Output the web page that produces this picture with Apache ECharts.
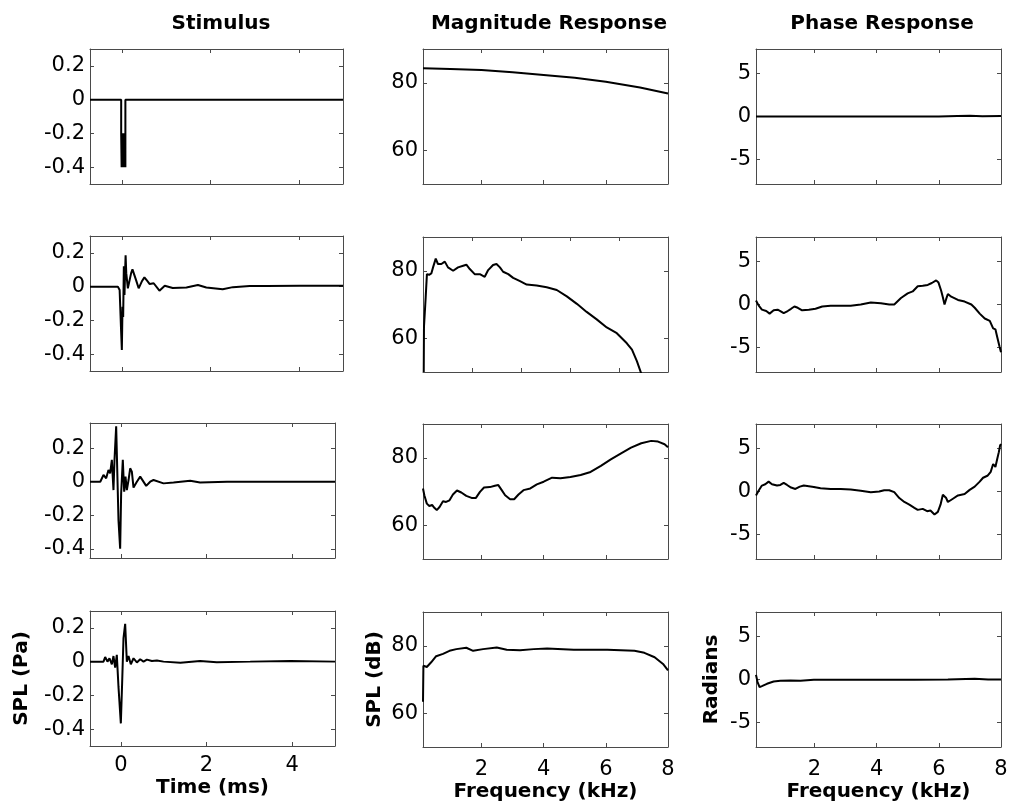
<!DOCTYPE html>
<html>
<head>
<meta charset="utf-8">
<title>Stimulus / Magnitude / Phase</title>
<script src="https://cdn.jsdelivr.net/npm/echarts@6.0.0/dist/echarts.min.js"></script>
<style>
  html, body { margin: 0; padding: 0; background: #fff; }
  #chart { width: 1011px; height: 809px; }
</style>
</head>
<body>
<div id="chart"></div>
<script>
// ---- values ----
// stimulus: time (ms) / pressure (Pa)
const stim1T = [-0.72, -0.015, -0.015, -0.005, 0.01, 0.025, 0.04, 0.055, 0.07, 0.08, 0.08, 5];
const stim1V = [0, 0, -0.2, -0.4, -0.2, -0.4, -0.2, -0.4, -0.2, -0.4, 0, 0];

const stim2T = [-0.72, -0.09, -0.05, -0.02, 0.0, 0.015, 0.03, 0.045, 0.06, 0.075, 0.085, 0.1, 0.136, 0.17, 0.21, 0.24, 0.28, 0.32, 0.38, 0.45, 0.51, 0.57, 0.63, 0.72, 0.85, 0.97, 1.15, 1.46, 1.72, 1.91, 2.28, 2.51, 2.89, 3.27, 4.02, 5];
const stim2V = [0, 0, -0.02, -0.24, -0.376, -0.12, -0.18, 0.12, -0.05, 0.1, 0.186, 0.08, -0.01, 0.0, 0.08, 0.102, 0.1, 0.04, -0.01, 0.03, 0.055, 0.035, 0.015, 0.02, -0.024, 0.005, -0.008, -0.005, 0.01, -0.005, -0.015, -0.003, 0.003, 0.004, 0.005, 0.005];

const stim3T = [-0.72, -0.48, -0.405, -0.343, -0.289, -0.25, -0.21, -0.172, -0.148, -0.109, -0.078, -0.055, -0.016, 0.007, 0.046, 0.078, 0.109, 0.14, 0.18, 0.218, 0.257, 0.296, 0.374, 0.452, 0.592, 0.685, 0.763, 0.997, 1.23, 1.62, 1.85, 2.48, 5.0];
const stim3V = [0, 0, 0.04, 0.02, 0.07, 0.05, 0.13, -0.05, 0.13, 0.33, 0.33, -0.23, -0.4, -0.07, 0.13, -0.06, 0.03, -0.05, 0.01, 0.08, 0.06, -0.035, 0, 0.03, -0.025, 0, 0.01, -0.01, -0.005, 0.005, -0.005, 0, 0];

const stim4T = [-0.72, -0.405, -0.366, -0.312, -0.265, -0.21, -0.172, -0.133, -0.094, -0.055, 0.0, 0.03, 0.062, 0.101, 0.14, 0.179, 0.233, 0.296, 0.374, 0.452, 0.53, 0.608, 0.725, 0.841, 0.997, 1.39, 1.85, 2.24, 3.02, 3.96, 5.0];
const stim4V = [0, 0, 0.027, 0, 0.02, -0.016, 0.033, -0.035, 0.04, -0.15, -0.366, -0.13, 0.14, 0.224, 0, 0.033, -0.016, 0.02, -0.005, 0.014, 0, 0.012, 0.004, 0.007, 0, -0.006, 0.004, -0.003, 0, 0.004, 0];

// magnitude: frequency (kHz) / SPL (dB)
const mag1F = [0.117, 1, 2, 3, 4, 5, 6, 7.1, 8];
const mag1V = [84.3, 84.1, 83.8, 83.1, 82.3, 81.5, 80.3, 78.6, 76.8];

const mag2F = [0.03, 0.04, 0.11, 0.16, 0.25, 0.34, 0.41, 0.52, 0.61, 0.75, 0.89, 1.02, 1.23, 1.43, 1.64, 1.77, 1.91, 2.11, 2.32, 2.52, 2.66, 2.86, 3.0, 3.14, 3.27, 3.48, 3.68, 3.96, 4.23, 4.64, 5.05, 5.46, 5.87, 6.28, 6.68, 7.09, 7.5, 7.91, 8.32, 8.53, 8.73, 8.91];
const mag2V = [50, 63.4, 72.2, 79, 78.8, 79.2, 81, 83.6, 82, 82, 82.7, 81, 80, 81, 81.5, 81.8, 80.5, 79, 79, 78.2, 80.2, 81.7, 82, 81, 79.7, 79, 77.9, 76.9, 75.9, 75.6, 75.1, 74.3, 72.4, 70.2, 67.8, 65.6, 63.2, 61.5, 58.5, 56.6, 53.2, 49.5];

const mag3F = [0.117, 0.16, 0.24, 0.32, 0.41, 0.49, 0.56, 0.65, 0.76, 0.86, 0.97, 1.08, 1.21, 1.35, 1.51, 1.68, 1.82, 1.95, 2.08, 2.27, 2.43, 2.54, 2.65, 2.76, 2.92, 3.05, 3.19, 3.35, 3.57, 3.78, 4.0, 4.27, 4.54, 4.86, 5.19, 5.51, 5.84, 6.16, 6.49, 6.81, 7.14, 7.46, 7.68, 7.89, 8];
const mag3V = [70.9, 68.9, 66.4, 65.7, 66, 65.1, 64.5, 65.4, 67.1, 66.9, 67.4, 69.1, 70.3, 69.7, 68.7, 68.1, 68.1, 69.9, 71.2, 71.3, 71.7, 71.9, 70.4, 68.9, 67.7, 67.7, 69.1, 70.4, 70.9, 72.1, 72.9, 74.1, 73.9, 74.3, 74.9, 75.8, 77.6, 79.5, 81.3, 83, 84.3, 85, 84.8, 84, 83.1];

const mag4F = [0.117, 0.13, 0.19, 0.24, 0.3, 0.38, 0.54, 0.76, 0.97, 1.19, 1.51, 1.73, 2.05, 2.49, 2.81, 3.24, 3.68, 4.11, 4.97, 6.05, 6.92, 7.24, 7.57, 7.84, 8];
const mag4V = [63.4, 74.1, 74.6, 73.7, 74.1, 75.1, 76.9, 77.6, 78.5, 79, 79.4, 78.5, 79, 79.5, 78.8, 78.7, 79, 79.2, 78.8, 78.8, 78.5, 77.9, 76.6, 74.6, 72.7];

// phase: frequency (kHz) / radians
const ph1F = [0.117, 2, 4, 6, 6.6, 7, 7.4, 8];
const ph1V = [0, 0, 0, 0, 0.05, 0.08, 0.02, 0.05];

const ph2F = [0.117, 0.2, 0.307, 0.447, 0.555, 0.685, 0.814, 0.9, 1.008, 1.137, 1.245, 1.353, 1.461, 1.601, 1.817, 2.032, 2.248, 2.518, 2.841, 3.164, 3.488, 3.811, 4.135, 4.404, 4.566, 4.782, 4.997, 5.159, 5.321, 5.482, 5.644, 5.774, 5.914, 5.989, 6.075, 6.129, 6.183, 6.237, 6.291, 6.399, 6.615, 6.83, 7.046, 7.154, 7.315, 7.477, 7.639, 7.747, 7.82, 7.88, 7.95, 8];
const ph2V = [0.46, -0.1, -0.6, -0.76, -1.06, -0.68, -0.6, -0.76, -1.0, -0.76, -0.5, -0.23, -0.38, -0.68, -0.6, -0.5, -0.23, -0.15, -0.15, -0.15, 0, 0.23, 0.15, 0, 0, 0.76, 1.29, 1.52, 2.13, 2.17, 2.28, 2.5, 2.81, 2.55, 1.6, 0.84, 0, 0.65, 1.22, 0.91, 0.53, 0.34, 0, -0.38, -1.06, -1.63, -1.9, -2.78, -2.89, -3.8, -4.87, -5.55];

const ph3F = [0.117, 0.2, 0.307, 0.415, 0.523, 0.631, 0.792, 0.9, 1.008, 1.116, 1.245, 1.385, 1.526, 1.655, 1.817, 1.978, 2.194, 2.518, 2.841, 3.164, 3.488, 3.811, 4.081, 4.243, 4.404, 4.566, 4.728, 4.89, 5.051, 5.213, 5.321, 5.482, 5.623, 5.73, 5.86, 5.968, 6.054, 6.129, 6.183, 6.237, 6.291, 6.453, 6.615, 6.83, 6.992, 7.154, 7.315, 7.423, 7.563, 7.67, 7.747, 7.82, 7.88, 7.93, 7.97, 8];
const ph3V = [-0.46, 0.08, 0.69, 0.84, 1.15, 0.84, 0.69, 0.76, 1.0, 0.76, 0.46, 0.3, 0.57, 0.69, 0.61, 0.53, 0.38, 0.3, 0.3, 0.23, 0.08, -0.08, 0, 0.15, 0.15, -0.08, -0.76, -1.22, -1.53, -1.9, -2.14, -2.02, -2.29, -2.21, -2.67, -2.37, -1.53, -0.38, -0.19, -0.76, -1.22, -0.84, -0.46, -0.3, 0.19, 0.57, 1.15, 1.6, 1.83, 2.29, 3.2, 2.86, 3.82, 4.58, 5.34, 5.53];

const ph4F = [0.117, 0.167, 0.232, 0.307, 0.469, 0.685, 0.9, 1.224, 1.547, 1.978, 2.518, 3.057, 4.135, 5.213, 6.291, 7.154, 7.585, 8];
const ph4V = [0.54, -0.3, -0.88, -0.77, -0.5, -0.23, -0.15, -0.12, -0.15, -0.04, -0.04, -0.04, -0.04, -0.04, 0, 0.08, 0, 0];

// tick values
const timeTicks = [0, 2, 4];
const freqTicks = [2, 4, 6, 8];
const paTicks = [-0.4, -0.2, 0, 0.2];
const dbTicks = [60, 80];
const radTicks = [-5, 0, 5];

const columnTitles = ['Stimulus', 'Magnitude Response', 'Phase Response'];

// ---- layout ----
const axisColor = '#4a4a4a';
const tickFont = 'DejaVu Sans';
const boldFont = 'DejaVu Sans';
const rowTop = [49, 237, 424, 612];
const ph = 135;

function zip(a, b) {
  return a.map((v, i) => [v, b[i]]);
}

const panels = [
  // column 1: stimulus
  { left: 90, top: 49, width: 253, xr: [-0.72, 5], xt: timeTicks, yr: [-0.5, 0.3], yt: paTicks, d: zip(stim1T, stim1V) },
  { left: 90, top: 236, width: 253, xr: [-0.72, 5], xt: timeTicks, yr: [-0.5, 0.3], yt: paTicks, d: zip(stim2T, stim2V) },
  { left: 90, top: 423, width: 245, xr: [-0.72, 5], xt: timeTicks, yr: [-0.455, 0.35], yt: paTicks, d: zip(stim3T, stim3V) },
  { left: 90, top: 611, width: 245, xr: [-0.72, 5], xt: timeTicks, yr: [-0.5, 0.3], yt: paTicks, d: zip(stim4T, stim4V),
    xName: 'Time (ms)', yName: 'SPL (Pa)', xGap: 32, yGap: 58, lblMargin: 9 },
  // column 2: magnitude
  { left: 423, top: rowTop[0], width: 245, xr: [0.117, 8], xt: freqTicks, yr: [50, 90], yt: dbTicks, d: zip(mag1F, mag1V) },
  { left: 423, top: rowTop[1], width: 245, xr: [0, 10], xt: freqTicks, yr: [50, 90], yt: dbTicks, d: zip(mag2F, mag2V) },
  { left: 423, top: rowTop[2], width: 245, xr: [0.117, 8], xt: freqTicks, yr: [50, 90], yt: dbTicks, d: zip(mag3F, mag3V) },
  { left: 423, top: rowTop[3], width: 245, xr: [0.117, 8], xt: freqTicks, yr: [50, 90], yt: dbTicks, d: zip(mag4F, mag4V),
    xName: 'Frequency (kHz)', yName: 'SPL (dB)', xGap: 35, yGap: 38, lblMargin: 12 },
  // column 3: phase
  { left: 756, top: rowTop[0], width: 245, xr: [0.117, 8], xt: freqTicks, yr: [-7.854, 7.854], yt: radTicks, d: zip(ph1F, ph1V) },
  { left: 756, top: rowTop[1], width: 245, xr: [0.117, 8], xt: freqTicks, yr: [-7.854, 7.854], yt: radTicks, d: zip(ph2F, ph2V) },
  { left: 756, top: rowTop[2], width: 245, xr: [0.117, 8], xt: freqTicks, yr: [-7.854, 7.854], yt: radTicks, d: zip(ph3F, ph3V) },
  { left: 756, top: rowTop[3], width: 245, xr: [0.117, 8], xt: freqTicks, yr: [-7.854, 7.854], yt: radTicks, d: zip(ph4F, ph4V),
    xName: 'Frequency (kHz)', yName: 'Radians', xGap: 35, yGap: 34, lblMargin: 12 }
];

const grid = [], xAxis = [], yAxis = [], series = [];
const nameStyle = { fontFamily: boldFont, fontWeight: 'bold', fontSize: 20, color: '#000' };
const lineAxis = { show: true, onZero: false, lineStyle: { color: axisColor, width: 1 } };

function ticks(vals) {
  return { show: true, inside: true, length: 4, customValues: vals, lineStyle: { color: axisColor, width: 1 } };
}

panels.forEach((p, i) => {
  const bottomRow = !!p.xName;
  grid.push({ left: p.left, top: p.top, width: p.width, height: ph, show: false, containLabel: false, outerBoundsMode: 'none' });

  xAxis.push({
    type: 'value', gridIndex: i, position: 'bottom', min: p.xr[0], max: p.xr[1],
    axisLine: lineAxis, axisTick: ticks(p.xt), splitLine: { show: false },
    axisLabel: { show: bottomRow, customValues: p.xt, margin: p.lblMargin || 8, fontFamily: tickFont, fontSize: 21, color: '#000', showMinLabel: true, showMaxLabel: true },
    name: p.xName || '', nameLocation: 'middle', nameGap: p.xGap || 30, nameTextStyle: nameStyle, nameMoveOverlap: false
  });
  xAxis.push({
    type: 'value', gridIndex: i, position: 'top', min: p.xr[0], max: p.xr[1],
    axisLine: lineAxis, axisTick: ticks(p.xt), axisLabel: { show: false }, splitLine: { show: false }
  });
  yAxis.push({
    type: 'value', gridIndex: i, position: 'left', min: p.yr[0], max: p.yr[1],
    axisLine: lineAxis, axisTick: ticks(p.yt), splitLine: { show: false },
    axisLabel: { customValues: p.yt, margin: 5, fontFamily: tickFont, fontSize: 21, color: '#000', showMinLabel: true, showMaxLabel: true },
    name: p.yName || '', nameLocation: 'middle', nameGap: p.yGap || 40, nameTextStyle: nameStyle, nameMoveOverlap: false
  });
  yAxis.push({
    type: 'value', gridIndex: i, position: 'right', min: p.yr[0], max: p.yr[1],
    axisLine: lineAxis, axisTick: ticks(p.yt), axisLabel: { show: false }, splitLine: { show: false }
  });
  series.push({
    type: 'line', xAxisIndex: 2 * i, yAxisIndex: 2 * i, data: p.d,
    showSymbol: false, symbol: 'none', clip: true, silent: true,
    lineStyle: { color: '#000', width: 2 }
  });
});

// column titles, centred over each column
const title = columnTitles.map((t, c) => ({
  text: t,
  left: [216, 544, 877][c],
  top: 9,
  textAlign: 'center',
  textStyle: { fontFamily: boldFont, fontWeight: 'bold', fontSize: 20, color: '#000' }
}));

const chart = echarts.init(document.getElementById('chart'), null, { renderer: 'canvas' });
chart.setOption({
  backgroundColor: '#fff',
  animation: false,
  title: title,
  grid: grid,
  xAxis: xAxis,
  yAxis: yAxis,
  series: series
});
</script>
</body>
</html>
